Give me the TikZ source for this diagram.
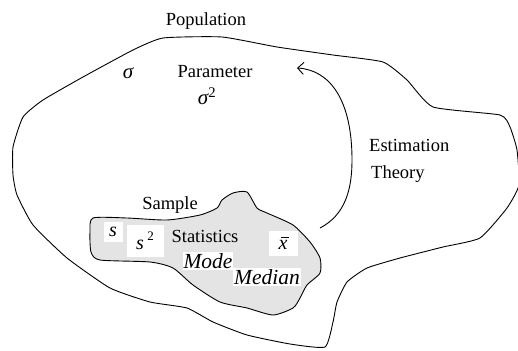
\documentclass[tikz,border=0pt]{standalone}
\usepackage{fontspec}
\setmainfont{Liberation Serif}
\usetikzlibrary{arrows.meta}
\definecolor{samplegray}{RGB}{228,228,228}
\tikzset{
  lbl/.style={inner sep=0pt, font=\fontsize{18.5}{20}\selectfont},
  mlbl/.style={inner sep=1.5pt, fill=white, font=\fontsize{20}{22}\selectfont\itshape},
  ilbl/.style={inner sep=1pt, fill=white, font=\fontsize{21.5}{23}\selectfont\itshape},
  outline/.style={line width=0.9pt, black},
}
\begin{document}
\begin{tikzpicture}[x=1pt,y=-1pt]
\useasboundingbox (0,0) rectangle (518,350);
% population outline
\draw[outline] plot[smooth cycle, tension=0.3] coordinates {
 (13,175) (13,147) (23,117) (43,100) (83,77) (133,50) (163,38) (222,37)
 (277,47) (333,55) (383,62) (407,80) (433,107) (500,115) (510,127) (517,150)
 (519,185) (507,208) (480,238) (443,247) (400,258) (367,268) (347,282)
 (337,302) (333,322) (325,347) (290,344) (247,335) (213,322) (187,308)
 (150,302) (110,288) (67,258) (33,225) (17,195)};
% sample region
\draw[outline, fill=samplegray] plot[smooth cycle, tension=0.4] coordinates {
 (93,218) (127,218) (167,220) (200,215) (217,208) (222,200) (233,193)
 (247,192) (257,208) (267,213) (293,225) (310,242) (320,258) (320,273)
 (307,285) (300,298) (293,308) (273,315) (247,308) (220,302) (193,285)
 (173,268) (150,262) (100,260) (91,252) (90,232)};
% labels
\node[lbl] (pop) at (206,21) {Population};
\node[lbl] (par) at (215,72) {Parameter};
\node[lbl, font=\fontsize{21}{22}\selectfont] (sig) at (128,73) {\itshape σ};
\node[lbl, font=\fontsize{21}{22}\selectfont] (sig2) at (207,96) {\itshape σ\textsuperscript{\upshape 2}};
\node[lbl, anchor=west] (est) at (369,145) {Estimation};
\node[lbl, anchor=west] (theo) at (371,174) {Theory};
\node[lbl] (samp) at (170,205) {Sample};
\node[mlbl, minimum width=19pt, minimum height=20pt] (s) at (113,232) {s};
\node[mlbl, minimum width=37pt, minimum height=32pt] (s2) at (145,241) {\raisebox{-3pt}{s}\,\raisebox{6pt}{\fontsize{13}{13}\selectfont\upshape 2}};
\node[lbl] (stat) at (205,236) {Statistics};
\node[mlbl, minimum width=29pt, minimum height=25pt] (xbar) at (283,243) {\rlap{\hspace{2.5pt}\raisebox{12pt}{\rule{8pt}{0.8pt}}}x};
\node[ilbl] (mode) at (208,261) {Mode};
\node[ilbl] (med) at (267,277) {Median};
% estimation arrow
\coordinate (from) at (320,228);
\coordinate (to) at (297,68);
\draw[line width=0.9pt, -{Straight Barb[length=6pt,width=12pt]}] (from)
  .. controls (345,215) and (352,190) .. (352,160)
  .. controls (352,100) and (330,70) .. (to);
\end{tikzpicture}
\end{document}
